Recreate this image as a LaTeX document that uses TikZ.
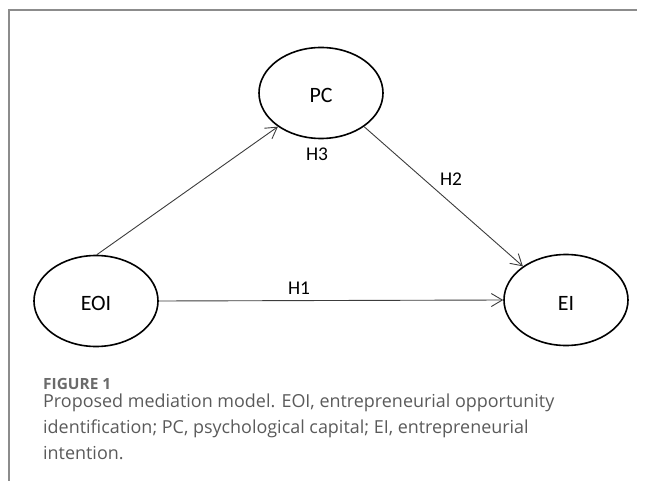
\documentclass[tikz,border=0pt]{standalone}
\usepackage{fontspec}
\setmainfont{Open Sans}
\newfontfamily\labelfont{Carlito}
\usetikzlibrary{shapes.geometric,arrows.meta}
\definecolor{capgray}{HTML}{5A5A5A}
\definecolor{framegray}{HTML}{8C8C8C}
\definecolor{arrowgray}{HTML}{3C3C3C}

\begin{document}
\begin{tikzpicture}[x=1bp,y=-1bp,
    construct/.style={ellipse,draw,line width=1.6bp,minimum width=124bp,minimum height=91bp,
      inner sep=0pt,text height=20bp,font=\labelfont\fontsize{22}{24}\selectfont},
    hyp/.style={anchor=base,inner sep=0pt,font=\labelfont\fontsize{19.5}{21}\selectfont},
    link/.style={draw=arrowgray,line width=0.9bp,-{Straight Barb[length=11bp,width=13bp]}},
    captext/.style={anchor=base west,inner sep=0pt,text=capgray,font=\fontsize{18}{26}\selectfont}]

  \useasboundingbox (0,0) rectangle (646,481);

  % frame
  \draw[framegray,line width=1.4bp] (9,481) -- (9,10) -- (637,10);

  % constructs
  \node[construct] (pc) at (321,93) {PC};
  \node[construct] (eoi) at (96,301) {EOI};
  \node[construct] (ei) at (566,300) {EI};

  % paths
  \draw[link] (eoi.89) -- (pc.218);
  \draw[link] (pc.322) -- (ei.142);
  \draw[link] (eoi.east) -- (ei.west);

  \node[hyp] (h1) at (299,294) {H1};
  \node[hyp] (h2) at (451,186) {H2};
  \node[hyp] (h3) at (317,161) {H3};

  % caption
  \node[anchor=base west,inner sep=0pt,text=capgray!90,font=\bfseries\fontsize{15.5}{17}\selectfont] (fig) at (43,389) {FIGURE 1};
  \node[captext] (cap1) at (43,407) {Proposed mediation model. EOI, entrepreneurial opportunity};
  \node[captext] (cap2) at (43,433) {identification; PC, psychological capital; EI, entrepreneurial};
  \node[captext] (cap3) at (43,459) {intention.};
\end{tikzpicture}
\end{document}
